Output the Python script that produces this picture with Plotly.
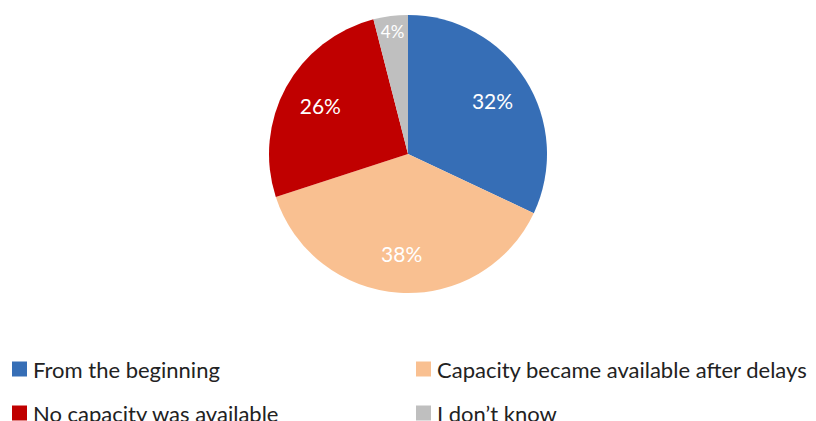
import plotly.graph_objects as go

labels = ["From the beginning", "Capacity became available after delays",
          "No capacity was available", "I don\u2019t know"]
values = [32, 38, 26, 4]
colors = ["#366EB6", "#F9C091", "#C00000", "#BFBFBF"]

# the page body has an 8px margin; the figure is placed at (8, 8)
OFF = 8
W, H = 816 - OFF, 421 - OFF
cx, cy, r = 408 - OFF, 154 - OFF, 139
dom = dict(x=[(cx - r) / W, (cx + r) / W], y=[1 - (cy + r) / H, 1 - (cy - r) / H])

fig = go.Figure()
fig.add_trace(go.Pie(
    labels=labels, values=values, sort=False, direction="clockwise", rotation=0,
    marker=dict(colors=colors, line=dict(width=0)),
    textinfo="none", domain=dom, showlegend=False, hoverinfo="label+percent",
))
# transparent ring overlay carrying the percentage labels further out
fig.add_trace(go.Pie(
    labels=labels, values=values, sort=False, direction="clockwise", rotation=0,
    hole=0.44, marker=dict(colors=["rgba(0,0,0,0)"] * len(values), line=dict(width=0)),
    texttemplate="%{value}%", textposition="inside", insidetextorientation="horizontal",
    textfont=dict(color="white", size=21, family="Lato"),
    domain=dom, showlegend=False, hoverinfo="skip",
))

# custom legend (2 columns)
leg_x = [12, 416, 12, 416]
leg_y = [369, 369, 413, 413]
shapes = []
annotations = []
for lab, col, lx, ly in zip(labels, colors, leg_x, leg_y):
    lx -= OFF
    ly -= OFF
    shapes.append(dict(type="rect", xref="paper", yref="paper",
                       x0=lx / W, x1=(lx + 15) / W, y0=1 - (ly + 7.5) / H, y1=1 - (ly - 7.5) / H,
                       fillcolor=col, line=dict(width=0)))
    annotations.append(dict(text=lab, xref="paper", yref="paper", x=(lx + 19) / W, y=1 - ly / H,
                            xanchor="left", yanchor="middle", showarrow=False,
                            font=dict(size=22, color="#222222", family="Lato")))

fig.update_layout(width=W, height=H, margin=dict(l=0, r=0, t=0, b=0),
                  paper_bgcolor="white", plot_bgcolor="white",
                  shapes=shapes, annotations=annotations)
fig.write_html("out.html")
